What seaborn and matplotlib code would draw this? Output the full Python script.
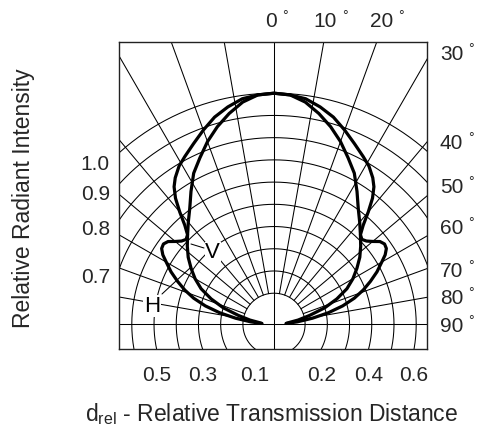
import numpy as np
import pandas as pd
import matplotlib
matplotlib.use("Agg")
import matplotlib.pyplot as plt
import seaborn as sns

# radiation pattern, one half (mirrored), angle from axis in degrees
angle_outer = [0, 4, 8, 12, 16, 20, 24, 28, 31, 34, 36, 38, 40, 42, 44, 46, 48, 50, 52, 54,
               56, 58, 60, 63, 66, 69, 72, 75, 78, 81, 84, 86]
dist_outer = [1.00, 0.995, 0.985, 0.96, 0.93, 0.89, 0.85, 0.815, 0.79, 0.755, 0.725, 0.68,
              0.62, 0.56, 0.52, 0.51, 0.52, 0.54, 0.565, 0.575, 0.57, 0.55, 0.52, 0.48,
              0.435, 0.39, 0.34, 0.28, 0.21, 0.135, 0.065, 0.015]
angle_inner = [0, 4, 8, 12, 16, 20, 24, 28, 32, 36, 40, 44, 48, 52, 56, 60, 64, 68, 72, 76,
               80, 83, 86]
dist_inner = [1.00, 0.995, 0.97, 0.93, 0.885, 0.835, 0.78, 0.73, 0.665, 0.605, 0.56, 0.52,
              0.485, 0.45, 0.41, 0.37, 0.325, 0.265, 0.20, 0.125, 0.07, 0.03, 0.015]

grid_dist = [0.1, 0.2, 0.3, 0.4, 0.5, 0.6, 0.7, 0.8, 0.9, 1.0]
ray_angles = [10, 20, 30, 40, 50, 60, 70, 80]
top_angle_labels = ["0", "10", "20"]
right_angle_labels = ["30", "40", "50", "60", "70", "80", "90"]
left_labels = ["1.0", "0.9", "0.8", "0.7"]
bottom_left_labels = ["0.5", "0.3", "0.1"]
bottom_right_labels = ["0.2", "0.4", "0.6"]

W, H = 481, 428
OX, OY = 274.0, 324.3      # pole position in pixels
SCALE = 222.2              # pixels per unit of d
OFFSET = 0.04              # radius of d = 0
BOX = (119, 42, 427, 349)  # left, top, right, bottom in pixels


def polar_xy(theta_deg, dist):
    t = np.radians(np.asarray(theta_deg, dtype=float))
    r = np.asarray(dist, dtype=float) + OFFSET
    return r * np.sin(t), r * np.cos(t)


def curve_frame(name, angles, dists):
    x, y = polar_xy(angles, dists)
    xs = np.concatenate([-x[::-1], x[1:]])
    ys = np.concatenate([y[::-1], y[1:]])
    return pd.DataFrame({"x": xs, "y": ys, "curve": name})


def ftext(px, py, s, **kw):
    fig.text(px / W, 1 - py / H, s, **kw)


def to_data(px, py):
    return (px - OX) / SCALE, (OY - py) / SCALE


sns.set_theme(style="white")
plt.rcParams["font.family"] = ["Liberation Sans", "DejaVu Sans"]
plt.rcParams["mathtext.fontset"] = "custom"
plt.rcParams["mathtext.rm"] = "Liberation Sans"
plt.rcParams["mathtext.it"] = "Liberation Sans:italic"

fig = plt.figure(figsize=(W / 100, H / 100), dpi=100)
left, top, right, bottom = BOX
ax = fig.add_axes([left / W, 1 - bottom / H, (right - left) / W, (bottom - top) / H])
ax.set_xlim((left - OX) / SCALE, (right - OX) / SCALE)
ax.set_ylim((OY - bottom) / SCALE, (OY - top) / SCALE)
ax.set_xticks([])
ax.set_yticks([])
for sp in ax.spines.values():
    sp.set_color("#222222")
    sp.set_linewidth(1.0)

grid_kw = dict(color="black", lw=0.75, zorder=1)
phi = np.linspace(0, 2 * np.pi, 721)
for d in grid_dist:
    r = d + OFFSET
    ax.plot(r * np.cos(phi), r * np.sin(phi), **grid_kw)
r0 = grid_dist[0] + OFFSET
for a in ray_angles:
    t = np.radians(a)
    for s in (-1, 1):
        ax.plot([s * r0 * np.sin(t), s * 3 * np.sin(t)], [r0 * np.cos(t), 3 * np.cos(t)], **grid_kw)
ax.axvline(0, **grid_kw)
ax.axhline(0, **grid_kw)

curves = pd.concat([curve_frame("H", angle_outer, dist_outer),
                    curve_frame("V", angle_inner, dist_inner)])
sns.lineplot(data=curves, x="x", y="y", hue="curve", units="curve", estimator=None,
             sort=False, palette={"H": "black", "V": "black"}, lw=2.3, legend=False,
             ax=ax, zorder=3)
ax.set_xlabel("")
ax.set_ylabel("")

# curve labels with leader lines
lab_kw = dict(fontsize=16, color="black", ha="center", va="baseline", zorder=4,
              bbox=dict(facecolor="white", edgecolor="none", pad=0.5))
ax.text(*to_data(212.7, 258.3), "V", **lab_kw)
ax.text(*to_data(152, 311.7), "H", **lab_kw)
for (x0, y0), (x1, y1) in [((191, 244), (204, 248)), ((162, 294), (190, 268))]:
    p0, p1 = to_data(x0, y0), to_data(x1, y1)
    ax.plot([p0[0], p1[0]], [p0[1], p1[1]], color="black", lw=0.75, zorder=4)

fs = 15
title_fs = 16.5
deg_fs = 10
# angle labels
top_right_px = [277, 337, 393]
for lab, xr in zip(top_angle_labels, top_right_px):
    ftext(xr, 27, lab, fontsize=fs, ha="right", va="baseline")
    ftext(xr + 5, 20, "\u00b0", fontsize=deg_fs, ha="left", va="baseline")
right_base_px = [60.5, 149, 193, 234, 277, 304, 332]
for lab, yb in zip(right_angle_labels, right_base_px):
    ftext(440, yb, lab, fontsize=fs, ha="left", va="baseline")
    ftext(468, yb - 7, "\u00b0", fontsize=deg_fs, ha="left", va="baseline")

# intensity labels on the left
left_base_px = [170, 200, 235, 283]
for lab, yb in zip(left_labels, left_base_px):
    ftext(110, yb, lab, fontsize=fs, ha="right", va="baseline")

# distance labels below: where the circles cross the lower edge
drop = bottom - OY
for lab in bottom_left_labels + bottom_right_labels:
    r = (float(lab) + OFFSET) * SCALE
    dx = np.sqrt(r ** 2 - drop ** 2)
    px = OX - dx if lab in bottom_left_labels else OX + dx
    ftext(px, 381, lab, fontsize=fs, ha="center", va="baseline")

ftext(24, 198, "Relative Radiant Intensity", fontsize=title_fs, rotation=90,
      ha="center", va="center")
ftext(271.5, 421, r"d$_{\rm rel}$ - Relative Transmission Distance", fontsize=title_fs,
      ha="center", va="baseline")

fig.savefig("out.png", dpi=100)
